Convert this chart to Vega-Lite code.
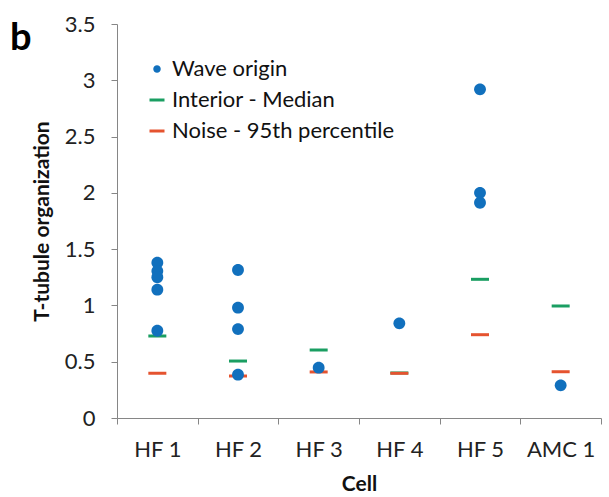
{
  "$schema": "https://vega.github.io/schema/vega-lite/v6.json",
  "width": 484,
  "height": 394,
  "padding": {"left": 10, "top": 13, "right": 0, "bottom": 0},
  "background": "white",
  "title": {"text": "b", "anchor": "start", "frame": "group", "fontSize": 38, "fontWeight": "bold", "font": "Lato", "color": "#000", "dx": -107, "offset": -45},
  "config": {
    "view": {"stroke": null},
    "font": "Lato",
    "axis": {"grid": false, "domainColor": "#868686", "tickColor": "#868686", "labelColor": "#222", "titleColor": "#111", "labelFont": "Lato", "titleFont": "Lato"}
  },
  "data": {"values": [
    {"cell": "HF 1", "series": "Wave origin", "value": 1.38},
    {"cell": "HF 1", "series": "Wave origin", "value": 1.305},
    {"cell": "HF 1", "series": "Wave origin", "value": 1.25},
    {"cell": "HF 1", "series": "Wave origin", "value": 1.14},
    {"cell": "HF 1", "series": "Wave origin", "value": 0.775},
    {"cell": "HF 1", "series": "Interior - Median", "value": 0.728},
    {"cell": "HF 1", "series": "Noise - 95th percentile", "value": 0.397},
    {"cell": "HF 2", "series": "Wave origin", "value": 1.315},
    {"cell": "HF 2", "series": "Wave origin", "value": 0.98},
    {"cell": "HF 2", "series": "Wave origin", "value": 0.79},
    {"cell": "HF 2", "series": "Wave origin", "value": 0.385},
    {"cell": "HF 2", "series": "Interior - Median", "value": 0.506},
    {"cell": "HF 2", "series": "Noise - 95th percentile", "value": 0.373},
    {"cell": "HF 3", "series": "Wave origin", "value": 0.447},
    {"cell": "HF 3", "series": "Interior - Median", "value": 0.604},
    {"cell": "HF 3", "series": "Noise - 95th percentile", "value": 0.409},
    {"cell": "HF 4", "series": "Wave origin", "value": 0.841},
    {"cell": "HF 4", "series": "Interior - Median", "value": 0.4},
    {"cell": "HF 4", "series": "Noise - 95th percentile", "value": 0.397},
    {"cell": "HF 5", "series": "Wave origin", "value": 2.92},
    {"cell": "HF 5", "series": "Wave origin", "value": 2.0},
    {"cell": "HF 5", "series": "Wave origin", "value": 1.912},
    {"cell": "HF 5", "series": "Interior - Median", "value": 1.232},
    {"cell": "HF 5", "series": "Noise - 95th percentile", "value": 0.74},
    {"cell": "AMC 1", "series": "Wave origin", "value": 0.29},
    {"cell": "AMC 1", "series": "Interior - Median", "value": 0.995},
    {"cell": "AMC 1", "series": "Noise - 95th percentile", "value": 0.411}
  ]},
  "encoding": {
    "x": {"field": "cell", "type": "nominal", "sort": ["HF 1", "HF 2", "HF 3", "HF 4", "HF 5", "AMC 1"],
      "scale": {"paddingInner": 0, "paddingOuter": 0},
      "axis": {"title": "Cell", "labelAngle": 0, "tickBand": "extent", "labelFontSize": 22, "titleFontSize": 21, "titleFontWeight": "bold", "tickSize": 6, "labelPadding": 15, "titlePadding": 13, "labelLimit": 0}},
    "y": {"field": "value", "type": "quantitative",
      "scale": {"domain": [0, 3.5], "nice": false},
      "axis": {"title": "T-tubule organization", "values": [0, 0.5, 1, 1.5, 2, 2.5, 3, 3.5], "format": "~g", "labelFontSize": 22, "titleFontSize": 21, "titleFontWeight": "bold", "tickSize": 6, "labelPadding": 16, "titlePadding": 12}}
  },
  "layer": [
    {
      "transform": [{"filter": "datum.series === 'Interior - Median'"}],
      "mark": {"type": "tick", "color": "#1a9e62", "size": 18, "thickness": 3, "opacity": 1}
    },
    {
      "transform": [{"filter": "datum.series === 'Noise - 95th percentile'"}],
      "mark": {"type": "tick", "color": "#e5532f", "size": 18, "thickness": 3, "opacity": 1}
    },
    {
      "transform": [{"filter": "datum.series === 'Wave origin'"}],
      "mark": {"type": "point", "filled": true, "size": 560, "opacity": 1, "strokeWidth": 0},
      "encoding": {
        "fill": {"field": "series", "type": "nominal",
          "scale": {"domain": ["Wave origin", "Interior - Median", "Noise - 95th percentile"], "range": ["#1170bd", "#1a9e62", "#e5532f"]},
          "legend": {"title": null, "orient": "none", "legendX": 29, "legendY": 34, "labelFontSize": 22, "labelColor": "#111", "labelLimit": 0, "rowPadding": 9, "symbolSize": 225, "symbolStrokeWidth": 0, "labelOffset": 4, "symbolOpacity": 1}},
        "shape": {"field": "series", "type": "nominal",
          "scale": {"domain": ["Wave origin", "Interior - Median", "Noise - 95th percentile"], "range": ["M0.5,0A0.5,0.5,0,1,1,-0.5,0A0.5,0.5,0,1,1,0.5,0Z", "M-1,-0.2H1V0.2H-1Z", "M-1,-0.2H1V0.2H-1Z"]}}
      }
    }
  ]
}
